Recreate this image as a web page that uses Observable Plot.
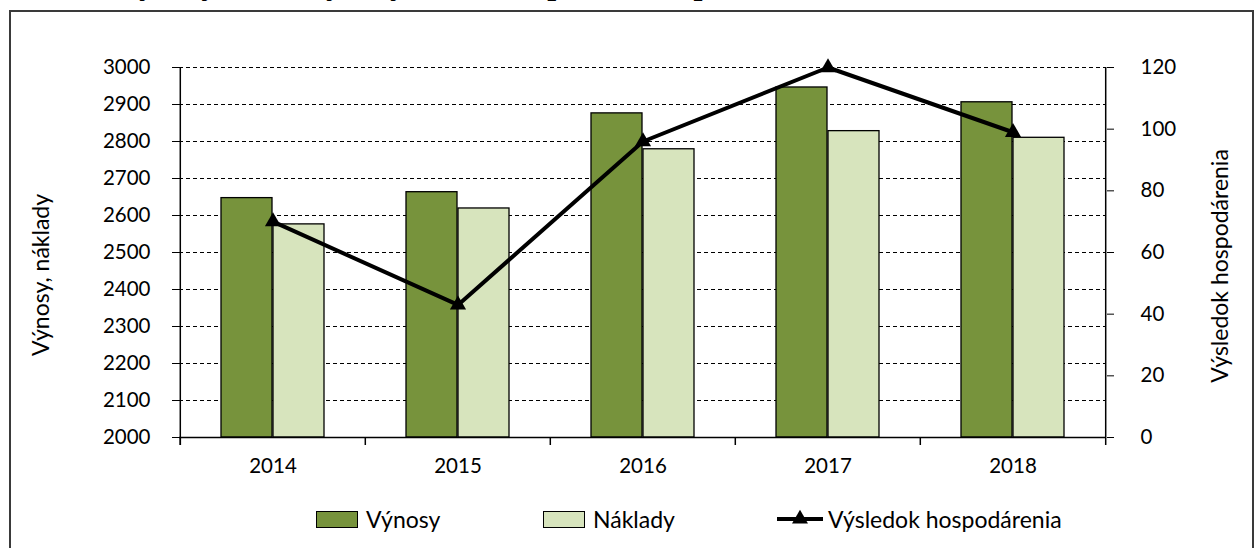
<!DOCTYPE html>
<html>
<head>
<meta charset="utf-8">
<script src="https://cdn.jsdelivr.net/npm/d3@7"></script>
<script src="https://cdn.jsdelivr.net/npm/@observablehq/plot@0.6"></script>
<style>
  html, body { margin: 0; padding: 0; background: #fff; }
  #wrap { position: relative; width: 1258px; height: 548px; overflow: hidden; font-family: Lato, "Open Sans", sans-serif; color: #000; }
  #frame { position: absolute; left: 9px; top: 10px; width: 1245px; height: 600px; border: 2px solid #3a3a3a; box-sizing: border-box; }
  #title { position: absolute; left: 116px; top: -33px; font: bold 32px "Liberation Serif", "Times New Roman", serif; white-space: nowrap; line-height: 32px; }
  #chart { position: absolute; left: 0; top: 0; }
  .ylab { position: absolute; font-size: 23px; white-space: nowrap; transform: translate(-50%, -50%) rotate(-90deg); }
  .leg { position: absolute; top: 507px; height: 24px; display: flex; align-items: center; font-size: 23px; white-space: nowrap; }
  .sw { width: 42px; height: 17px; border: 1.3px solid #000; box-sizing: border-box; margin-right: 8px; }
</style>
</head>
<body>
<div id="wrap">
  <div id="title"></div>
  <div id="frame"></div>
  <div id="chart"></div>
</div>
<script>
const years = ["2014", "2015", "2016", "2017", "2018"];
const vynosy = [2647, 2663, 2876, 2946, 2906];
const naklady = [2576, 2619, 2779, 2828, 2810];
const vysledok = [70, 43, 96, 120, 99];
const leftTicks = [2000, 2100, 2200, 2300, 2400, 2500, 2600, 2700, 2800, 2900, 3000];
const rightTicks = [0, 20, 40, 60, 80, 100, 120];
const seriesNames = ["Výnosy", "Náklady", "Výsledok hospodárenia"];
const seriesColors = ["#77933C", "#D7E4BD", "#000000"];
const leftTitle = "Výnosy, náklady";
const rightTitle = "Výsledok hospodárenia";
const chartTitle = "Výnosy, náklady a výsledok hospodárenia podniku v rokoch 2014 – 2018";

const W = 1258, H = 480, mL = 179, mR = 152, mT = 67, mB = 43;
const bw = (W - mL - mR) / years.length;

// map secondary (right) axis values onto the primary scale domain
const toLeft = d3.scaleLinear([0, 120], [2000, 3000]);

const table = years.map((y, i) => ({year: y, vynosy: vynosy[i], naklady: naklady[i], vysledok: vysledok[i]}));

const chart = Plot.plot({
  width: W, height: H,
  marginLeft: mL, marginRight: mR, marginTop: mT, marginBottom: mB,
  style: {fontFamily: "Lato, 'Open Sans', sans-serif", fontSize: "20.5px", color: "#000", background: "transparent", overflow: "visible"},
  x: {type: "band", domain: years, padding: 0, label: null},
  y: {domain: [2000, 3000], label: null},
  marks: [
    Plot.gridY(leftTicks.slice(1), {stroke: "#000", strokeOpacity: 1, strokeWidth: 1, strokeDasharray: "4,3"}),
    Plot.barY(table, {x: "year", y1: 2000, y2: "vynosy", fill: seriesColors[0], stroke: "#000", strokeWidth: 1.3, insetLeft: 41, insetRight: 93}),
    Plot.barY(table, {x: "year", y1: 2000, y2: "naklady", fill: seriesColors[1], stroke: "#000", strokeWidth: 1.3, insetLeft: 93, insetRight: 41}),
    Plot.ruleY([2000], {stroke: "#000", strokeWidth: 1.5}),
    Plot.ruleX(years, {x: d => d, y1: 2000, y2: 2000, dx: -bw / 2, insetBottom: -8, stroke: "#000", strokeWidth: 1.5}),
    Plot.ruleX([years[0]], {x: d => d, y1: 3000, y2: 2000, dx: -bw / 2, insetBottom: -8, stroke: "#000", strokeWidth: 1.5}),
    Plot.ruleX([years[years.length - 1]], {x: d => d, y1: 3000, y2: 2000, dx: bw / 2, insetBottom: -8, stroke: "#000", strokeWidth: 1.5}),
    Plot.axisY({ticks: leftTicks, tickSize: 7, tickPadding: 22, label: null, tickFormat: d => String(d)}),
    Plot.axisY({anchor: "right", ticks: rightTicks.map(toLeft), tickSize: 7, tickPadding: 27, label: null, tickFormat: d => String(Math.round(toLeft.invert(d)))}),
    Plot.axisX({tickSize: 0, tickPadding: 21, label: null}),
    Plot.line(table, {x: "year", y: d => toLeft(d.vysledok), stroke: "#000", strokeWidth: 4, strokeLinejoin: "miter"}),
    Plot.dot(table, {x: "year", y: d => toLeft(d.vysledok), symbol: "triangle", fill: "#000", r: 6})
  ]
});
document.getElementById("chart").appendChild(chart);
document.getElementById("title").textContent = chartTitle;

const wrap = document.getElementById("wrap");
function addYLabel(text, cx, cy) {
  const el = document.createElement("div");
  el.className = "ylab";
  el.textContent = text;
  el.style.left = cx + "px";
  el.style.top = cy + "px";
  wrap.appendChild(el);
}
addYLabel(leftTitle, 40, 275);
addYLabel(rightTitle, 1219, 266);

const legendLeft = [316, 543, 777];
seriesNames.forEach((name, i) => {
  const item = document.createElement("div");
  item.className = "leg";
  item.style.left = legendLeft[i] + "px";
  if (i < 2) {
    const sw = document.createElement("div");
    sw.className = "sw";
    sw.style.background = seriesColors[i];
    item.appendChild(sw);
  } else {
    const svg = d3.create("svg").attr("width", 46).attr("height", 20).style("margin-right", "5px");
    svg.append("line").attr("x1", 0).attr("x2", 46).attr("y1", 10).attr("y2", 10).attr("stroke", "#000").attr("stroke-width", 4);
    svg.append("path").attr("d", d3.symbol(d3.symbolTriangle, 110)()).attr("transform", "translate(23,10)").attr("fill", "#000");
    item.appendChild(svg.node());
  }
  const t = document.createElement("span");
  t.textContent = name;
  item.appendChild(t);
  wrap.appendChild(item);
});
</script>
</body>
</html>
